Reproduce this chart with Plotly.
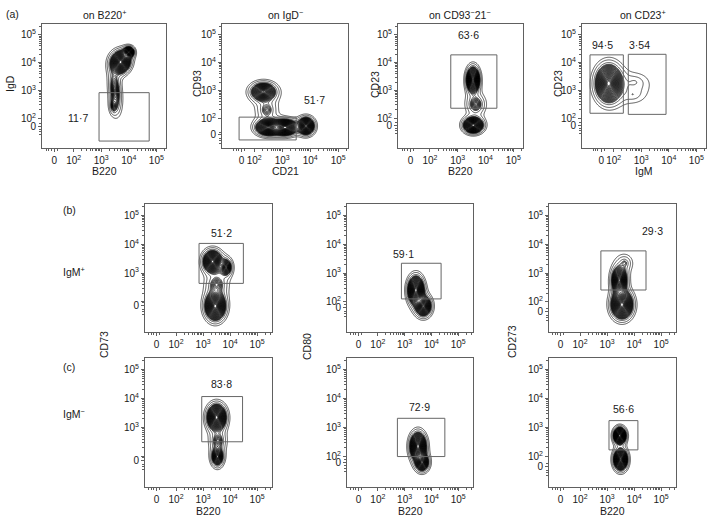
import numpy as np
import plotly.graph_objects as go

W, H = 709, 519

# ---------------- data ----------------
# display units: 10^2 -> 0, 10^3 -> 1, 10^4 -> 2, 10^5 -> 3 ; "0" at a panel-specific offset
decade_labels = ["10<sup>2</sup>", "10<sup>3</sup>", "10<sup>4</sup>", "10<sup>5</sup>"]
decade_pos = [0, 1, 2, 3]

x_titles = ["B220", "CD21", "B220", "IgM", "", "", "", "B220", "B220", "B220"]
y_titles = ["IgD", "CD93", "CD23", "CD23", "", "", "", "", "", ""]
col_titles = ["on B220<sup>+</sup>", "on IgD<sup>−</sup>", "on CD93<sup>−</sup>21<sup>−</sup>", "on CD23<sup>+</sup>"]
x_zero = [-0.70, -0.45, -0.70, -0.45, -0.72, -0.72, -0.72, -0.72, -0.72, -0.72]
y_zero = [-0.28, -0.60, -0.25, -0.25, -0.14, -0.20, -0.35, -0.14, -0.20, -0.35]
y_show_1e2 = [True, True, True, True, False, True, True, False, True, True]

# gates: (x0, x1, y0, y1) and their percentages (label x, y)
gates = [
    [(0.92, 2.74, -0.82, 0.92)],
    [(-0.54, 1.50, -0.78, 0.04)],
    [(0.75, 2.41, 0.36, 2.28)],
    [(-0.86, 0.35, 0.18, 2.28), (0.53, 1.90, 0.14, 2.30)],
    [(0.85, 2.49, 0.64, 2.03)],
    [(0.88, 2.36, 0.10, 1.34)],
    [(0.77, 2.44, 0.41, 1.77)],
    [(0.95, 2.46, 0.51, 2.07)],
    [(0.73, 2.50, 0.00, 1.32)],
    [(1.07, 2.14, 0.23, 1.24)],
]
gate_pct = [["11·7"], ["51·7"], ["63·6"], ["94·5", "3·54"], ["51·2"], ["59·1"], ["29·3"],
            ["83·8"], ["72·9"], ["56·6"]]
gate_lab_xy = [[(0.15, 0.02)], [(2.16, 0.66)], [(1.38, 3.0)], [(-0.40, 2.64), (0.95, 2.64)],
               [(1.69, 2.38)], [(0.94, 1.65)], [(2.69, 2.47)], [(1.69, 2.49)], [(1.56, 1.72)],
               [(1.60, 1.63)]]

# cell populations: (cx, cy, half-width x, half-width y, angle deg, relative peak)
pops = [
    [(1.70, 2.02, 0.50, 0.58, -20, 1.0), (2.0, 2.38, 0.27, 0.27, 0, 0.6),
     (1.50, 1.00, 0.28, 0.95, 5, 0.15), (1.45, 0.45, 0.16, 0.32, 0, 0.10)],
    [(0.33, 0.95, 0.63, 0.46, 0, 0.6), (0.45, 0.30, 0.42, 0.45, 0, 0.08),
     (0.50, -0.33, 0.62, 0.40, 0, 0.9), (1.10, -0.33, 0.62, 0.40, 0, 1.0),
     (1.85, -0.28, 0.42, 0.44, 0, 0.8)],
    [(1.55, 1.38, 0.34, 0.66, 0, 0.9), (1.56, -0.25, 0.50, 0.40, 0, 1.0),
     (1.65, 0.50, 0.40, 0.45, 0, 0.12)],
    [(-0.18, 1.25, 0.68, 0.95, 0, 1.0), (0.75, 1.30, 0.45, 0.30, 0, 0.03),
     (0.70, 0.85, 0.35, 0.25, 0, 0.025)],
    [(1.35, 1.40, 0.50, 0.55, 0, 0.8), (1.85, 1.20, 0.30, 0.40, 0, 0.3),
     (1.45, -0.15, 0.54, 0.70, 0, 1.0), (1.50, 0.60, 0.45, 0.45, 0, 0.1)],
    [(1.42, 0.40, 0.43, 0.70, 0, 1.0), (1.70, -0.15, 0.42, 0.50, 0, 0.6)],
    [(1.45, 0.75, 0.40, 0.66, 0, 0.7), (1.65, 1.35, 0.30, 0.30, -20, 0.05),
     (1.55, -0.10, 0.57, 0.70, 0, 1.0)],
    [(1.50, 1.35, 0.50, 0.64, 0, 1.0), (1.53, 0.00, 0.31, 0.46, 0, 0.35),
     (1.55, 0.55, 0.34, 0.40, 0, 0.1)],
    [(1.50, 0.35, 0.43, 0.68, 0, 1.0), (1.65, -0.20, 0.35, 0.42, 0, 0.5)],
    [(1.47, 0.72, 0.33, 0.41, 0, 1.0), (1.50, -0.10, 0.37, 0.53, 0, 0.9)],
]

# ---------------- layout geometry ----------------
boxes = [(42, 24, 166, 148), (222, 24, 348, 148), (398, 24, 523, 148), (582, 24, 706, 148),
         (145, 204, 272, 332), (347, 204, 473, 332), (549, 204, 676, 332),
         (145, 358, 272, 487), (347, 358, 473, 487), (549, 358, 676, 487)]
xr_a, xr_bc = (-1.15, 3.35), (-1.15, 3.55)
yr_a, yr_bc = (-1.07, 3.39), (-1.05, 3.40)

L = 4.5          # log-depth of outermost contour
S0, GAIN = 0.30, 4.0   # sparse outer rings, dense inner rings
STEP = 0.11
CORE = 0.12      # soft core radius (white centre dot)
FONT = "Liberation Sans, Arial, sans-serif"
FRAME = "#606060"
TXT = "#1a1a1a"

fig = go.Figure()


def density(comps, xr, yr, n=220):
    xs = np.linspace(xr[0], xr[1], n)
    ys = np.linspace(yr[0], yr[1], n)
    X, Y = np.meshgrid(xs, ys)
    tot = np.zeros_like(X)
    norm = np.sqrt(1 + CORE ** 2) - CORE
    for cx, cy, ex, ey, ang, w in comps:
        a = np.deg2rad(ang)
        dx, dy = X - cx, Y - cy
        u = dx * np.cos(a) + dy * np.sin(a)
        v = -dx * np.sin(a) + dy * np.cos(a)
        r2 = (u / ex) ** 2 + (v / ey) ** 2
        r = (np.sqrt(r2 + CORE ** 2) - CORE) / norm
        lw = np.log(w)
        tot += np.exp(lw - (lw + L) * r)
    lz = np.log(tot)
    lz -= lz.max()
    s = np.clip((lz + L) / L, -0.2, 1.0)          # 0 at outer edge, 1 at peak
    z = s + GAIN * np.maximum(0.0, s - S0)
    return np.round(xs, 4), np.round(ys, 4), np.round(z, 3)


def minor_ticks(zero, lo, hi):
    t = []
    for k in range(0, 4):
        for m in range(2, 10):
            v = k + np.log10(m)
            if lo < v < hi:
                t.append(round(v, 4))
    for d in (-0.3, -0.2, -0.12, 0.1):
        v = zero + d
        if lo < v < hi:
            t.append(round(v, 4))
    return t


def note(text, px, py, size=10.5, angle=0):
    return dict(text=text, x=px / W, y=1 - py / H, xref="paper", yref="paper",
                xanchor="center", yanchor="middle", showarrow=False, textangle=angle,
                font=dict(family=FONT, size=size, color=TXT))


annotations = []
shapes = []
zmax = 1.0 + GAIN * (1.0 - S0)
for i in range(10):
    x0, y0, x1, y1 = boxes[i]
    xr = xr_a if i < 4 else xr_bc
    yr = yr_a if i < 4 else yr_bc
    xn = "x" if i == 0 else f"x{i+1}"
    yn = "y" if i == 0 else f"y{i+1}"
    xk = "xaxis" if i == 0 else f"xaxis{i+1}"
    yk = "yaxis" if i == 0 else f"yaxis{i+1}"

    xs, ys, z = density(pops[i], xr, yr)
    fig.add_trace(go.Contour(
        x=xs, y=ys, z=z, xaxis=xn, yaxis=yn, showscale=False, hoverinfo="skip",
        contours=dict(start=0.02, end=zmax - 0.05, size=STEP, coloring="none"),
        line=dict(color="black", width=0.65, smoothing=1.0)))

    xtv = [x_zero[i]] + decade_pos
    xtt = ["0"] + decade_labels
    ytv = [y_zero[i]] + decade_pos
    ytt = ["0"] + [lab if (j > 0 or y_show_1e2[i]) else "" for j, lab in enumerate(decade_labels)]

    common = dict(showline=True, mirror=True, linecolor=FRAME, linewidth=1, showgrid=False,
                  zeroline=False, ticks="outside", ticklen=3, tickwidth=1, tickcolor=FRAME,
                  tickfont=dict(family=FONT, size=10, color=TXT), tickmode="array",
                  fixedrange=True, automargin=False, tickangle=0)
    fig.layout[xk] = dict(common, domain=[x0 / W, x1 / W], range=list(xr), anchor=yn,
                          tickvals=xtv, ticktext=xtt,
                          minor=dict(tickmode="array", tickvals=minor_ticks(x_zero[i], *xr),
                                     ticklen=2, ticks="outside", tickcolor=FRAME))
    fig.layout[yk] = dict(common, domain=[1 - y1 / H, 1 - y0 / H], range=list(yr), anchor=xn,
                          tickvals=ytv, ticktext=ytt,
                          minor=dict(tickmode="array", tickvals=minor_ticks(y_zero[i], *yr),
                                     ticklen=2, ticks="outside", tickcolor=FRAME))

    for (gx0, gx1, gy0, gy1) in gates[i]:
        shapes.append(dict(type="rect", xref=xn, yref=yn, x0=gx0, x1=gx1, y0=gy0, y1=gy1,
                           line=dict(color="#666666", width=1)))
    for txt, (lx, ly) in zip(gate_pct[i], gate_lab_xy[i]):
        annotations.append(dict(text=txt, x=lx, y=ly, xref=xn, yref=yn, showarrow=False,
                                xanchor="center", yanchor="middle",
                                font=dict(family=FONT, size=10.5, color=TXT)))

    if x_titles[i]:
        ty = 171 if i < 4 else 511
        annotations.append(note(x_titles[i], (x0 + x1) / 2, ty))

# y titles of row (a)
for txt, px in zip(y_titles[:4], [10, 197, 375, 558]):
    annotations.append(note(txt, px, 84, angle=-90))
# shared y titles of rows (b)/(c)
for txt, px, py in zip(["CD73", "CD80", "CD273"], [104, 307, 512], [345, 347, 342]):
    annotations.append(note(txt, px, py, angle=-90))
# column titles
for txt, px in zip(col_titles, [104, 285, 460, 643]):
    annotations.append(note(txt, px, 14))
# row labels
for txt, px, py in [("(a)", 12, 14), ("(b)", 69, 210), ("(c)", 69, 367),
                    ("IgM<sup>+</sup>", 74, 271), ("IgM<sup>−</sup>", 74, 413)]:
    annotations.append(note(txt, px, py))

fig.update_layout(template=go.layout.Template(), width=W, height=H, autosize=False,
                  margin=dict(l=0, r=0, t=0, b=0, pad=0),
                  paper_bgcolor="white", plot_bgcolor="white", showlegend=False,
                  annotations=annotations, shapes=shapes)

fig.write_html("out.html", config={"displayModeBar": False},
               post_script="document.body.style.margin='0';document.body.style.padding='0';")
